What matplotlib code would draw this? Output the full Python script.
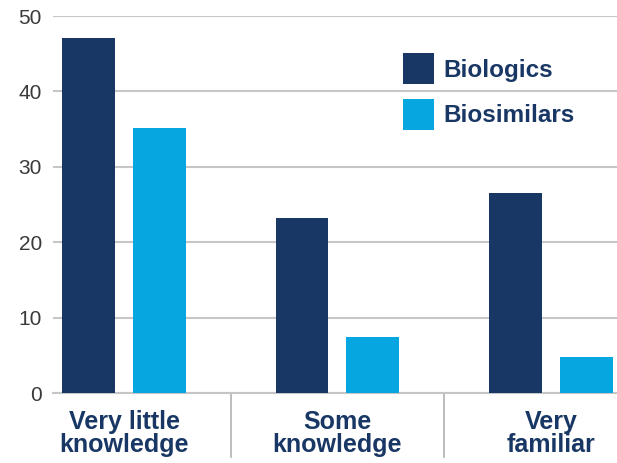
import matplotlib.pyplot as plt
import numpy as np

categories = ["Very little\nknowledge", "Some\nknowledge", "Very\nfamiliar"]
biologics = [47.1, 23.2, 26.6]
biosimilars = [35.2, 7.5, 4.8]
series_names = ["Biologics", "Biosimilars"]

navy = "#183764"
cyan = "#06a7e0"
grid_col = "#c6c6c6"

plt.rcParams['font.family'] = ['Liberation Sans', 'DejaVu Sans']

fig = plt.figure(figsize=(6.17, 4.63), dpi=100)
ax = fig.add_axes([53 / 617, 1 - 393.3 / 463, 564 / 617, (393.3 - 16) / 463])

x = np.arange(len(categories))
w = 0.248
off = 0.166
ax.bar(x - off, biologics, w, color=navy, label=series_names[0], zorder=3)
ax.bar(x + off, biosimilars, w, color=cyan, label=series_names[1], zorder=3)

ax.set_xlim(-0.333, 2.31)
ax.set_ylim(0, 50)
ax.set_yticks(range(0, 51, 10))
ax.yaxis.grid(True, color=grid_col, linewidth=1.5, zorder=0)
ax.set_axisbelow(True)
for s in ["left", "right", "top"]:
    ax.spines[s].set_visible(False)
ax.spines["bottom"].set_color(grid_col)
ax.spines["bottom"].set_linewidth(1.5)
ax.tick_params(axis="y", length=0, pad=8, labelsize=15, labelcolor="#3a3a3a")
ax.tick_params(axis="x", length=0)
ax.set_xticks(x)
ax.set_xticklabels([])

for i, c in enumerate(categories):
    ax.text(x[i], -0.043, c, transform=ax.get_xaxis_transform(), ha="center", va="top",
            fontsize=18, fontweight="bold", color=navy, linespacing=0.98)

for sep in x[:-1] + 0.5:
    ax.plot([sep, sep], [0, -0.17], transform=ax.get_xaxis_transform(), color="#b0b0b0",
            linewidth=1.2, clip_on=False)

ax.legend(loc="upper left", bbox_to_anchor=(0.6206, 0.902), frameon=False, borderpad=0,
          borderaxespad=0, prop={"weight": "bold", "size": 17.5}, handlelength=1.28,
          handleheight=1.6, labelspacing=0.6, handletextpad=0.4, labelcolor=navy)

fig.savefig("out.png", dpi=100)
